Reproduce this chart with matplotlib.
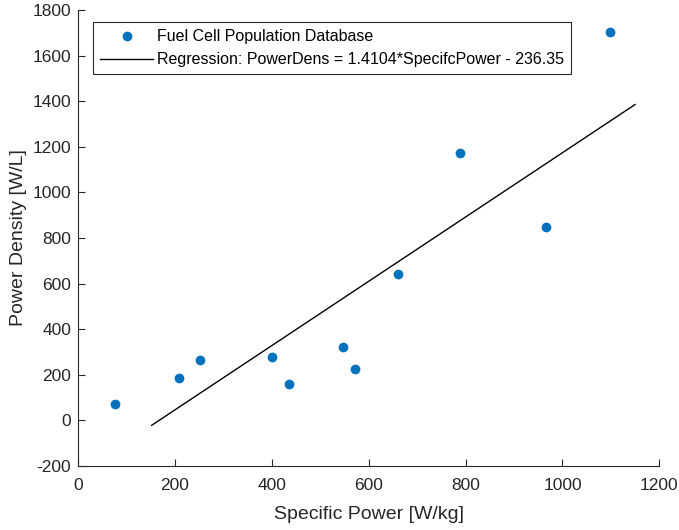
import matplotlib.pyplot as plt
import numpy as np

plt.rcParams['font.family'] = ['Liberation Sans', 'DejaVu Sans']
plt.rcParams['axes.unicode_minus'] = False

# data
specific_power = [76, 209, 252, 401, 435, 547, 572, 661, 789, 967, 1099]
power_density = [71, 185, 264, 278, 161, 321, 224, 642, 1172, 848, 1705]
slope, intercept = 1.4104, -236.35
fit_range = [152, 1150]

fig = plt.figure(figsize=(6.79, 5.30), dpi=100)
ax = fig.add_axes([0.115, 0.121, 0.856, 0.860])

ax.plot(specific_power, power_density, 'o', color='#0072BD', markersize=6,
        label='Fuel Cell Population Database')
xf = np.array(fit_range)
ax.plot(xf, slope * xf + intercept, '-', color='black', linewidth=1,
        label='Regression: PowerDens = 1.4104*SpecifcPower - 236.35')

ax.set_xlim(0, 1200)
ax.set_ylim(-200, 1800)
ax.set_xticks(np.arange(0, 1201, 200))
ax.set_yticks(np.arange(-200, 1801, 200))
ax.spines['top'].set_visible(False)
ax.spines['right'].set_visible(False)
for s in ['left', 'bottom']:
    ax.spines[s].set_color('#262626')
    ax.spines[s].set_linewidth(0.8)
ax.tick_params(direction='in', length=5, labelsize=12.5, colors='#262626')
ax.tick_params(axis='x', pad=9)
ax.tick_params(axis='y', pad=5)
ax.set_xlabel('Specific Power [W/kg]', fontsize=14, color='#262626', labelpad=9)
ax.set_ylabel('Power Density [W/L]', fontsize=14, color='#262626', labelpad=4)

leg = ax.legend(loc='upper left', bbox_to_anchor=(0.026, 0.974), fontsize=11.5,
                fancybox=False, framealpha=1, edgecolor='#262626',
                borderpad=0.45, labelspacing=0.5, handlelength=3.3,
                handletextpad=0.25, borderaxespad=0)
leg.get_frame().set_linewidth(0.8)

fig.savefig('out.png', dpi=100)
